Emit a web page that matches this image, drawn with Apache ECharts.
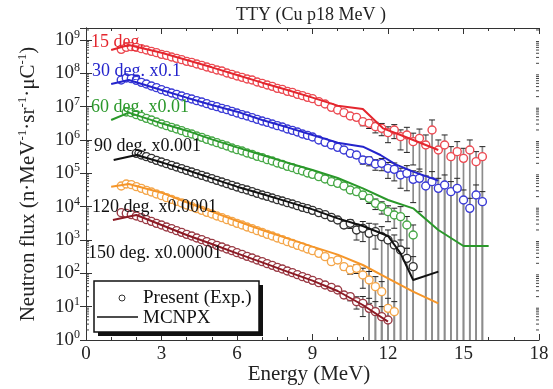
<!DOCTYPE html>
<html>
<head>
<meta charset="utf-8">
<script src="https://cdn.jsdelivr.net/npm/echarts@6/dist/echarts.min.js"></script>
<style>
  html, body { margin: 0; padding: 0; background: #fff; }
  #chart { width: 553px; height: 389px; }
</style>
</head>
<body>
<div id="chart"></div>
<script>
// Thick-target neutron yield, Cu target, 18 MeV protons.
// Flux values are stored as log10(n/MeV/sr/uC), already multiplied by the
// scale factor printed next to each angle.

// Energy grid of the measured points (MeV), dense low-energy part
const lowE = [1.4, 1.6, 1.8, 2.0, 2.2, 2.4, 2.6, 2.8, 3.0, 3.2, 3.4, 3.6, 3.8,
  4.0, 4.2, 4.4, 4.6, 4.8, 5.0, 5.2, 5.4, 5.6, 5.8, 6.0, 6.2, 6.4, 6.6, 6.8,
  7.0, 7.2, 7.4, 7.6, 7.8, 8.0, 8.2, 8.4, 8.6, 8.8, 9.0];
// High-energy part, where statistical errors are shown
const tailE = [9.25, 9.5, 9.75, 10.0, 10.25, 10.5, 10.75, 11.0, 11.25, 11.5,
  11.75, 12.0, 12.25, 12.5, 12.75, 13.0, 13.25, 13.5, 13.75, 14.0, 14.25, 14.5,
  14.75, 15.0, 15.25, 15.5, 15.75];

// 15 deg
const exp15Low = [8.72, 8.78, 8.80, 8.78, 8.74, 8.70, 8.66, 8.62, 8.57, 8.54, 8.49,
  8.45, 8.41, 8.36, 8.33, 8.28, 8.24, 8.19, 8.15, 8.10, 8.07, 8.01, 7.97, 7.92,
  7.88, 7.83, 7.80, 7.74, 7.70, 7.65, 7.61, 7.55, 7.52, 7.46, 7.43, 7.37, 7.33,
  7.28, 7.24];
const exp15Tail = [7.15, 7.08, 6.98, 6.90, 6.82, 6.72, 6.68, 6.55, 6.50, 6.40,
  6.35, 6.22, 6.30, 6.10, 6.15, 5.95, 6.05, 5.85, 6.30, 5.70, 5.85, 5.50, 5.65,
  5.45, 5.70, 5.35, 5.50];
const err15 = [10, 10, 12, 12, 15, 15, 18, 25, 30, 35, 40, 50, 45, 60, 70, 80, 90,
  100, 100, 100, 100, 100, 100, 100, 100, 100, 100];
const mc15E = [1.0, 1.7, 3, 4, 5, 6, 7, 8, 9, 10, 11, 11.8, 12.5, 13, 14];
const mc15 = [8.70, 8.85, 8.62, 8.40, 8.18, 7.95, 7.72, 7.50, 7.27, 7.03, 6.93,
  6.35, 6.15, 6.00, 5.70];

// 30 deg x0.1
const exp30Low = [7.80, 7.86, 7.84, 7.79, 7.73, 7.68, 7.62, 7.57, 7.51, 7.46, 7.41,
  7.37, 7.32, 7.27, 7.23, 7.18, 7.14, 7.09, 7.04, 7.00, 6.95, 6.91, 6.86, 6.81,
  6.76, 6.72, 6.67, 6.62, 6.57, 6.53, 6.48, 6.43, 6.39, 6.33, 6.29, 6.24, 6.18,
  6.14, 6.09];
const exp30Tail = [6.00, 5.93, 5.85, 5.78, 5.70, 5.60, 5.55, 5.40, 5.38, 5.28,
  5.30, 5.15, 5.12, 4.95, 5.00, 4.82, 4.85, 4.62, 4.75, 4.55, 4.65, 4.45, 4.55,
  4.20, 3.95, 4.35, 4.15];
const err30 = [10, 10, 12, 12, 15, 18, 20, 25, 30, 35, 40, 50, 55, 60, 70, 80, 90,
  100, 100, 100, 100, 100, 100, 100, 100, 100, 100];
const mc30E = [1.0, 1.7, 3, 4, 5, 6, 7, 8, 9, 10, 11, 11.7, 12.3, 13, 14];
const mc30 = [7.68, 7.80, 7.50, 7.27, 7.05, 6.85, 6.60, 6.38, 6.15, 5.92, 5.80,
  5.55, 5.27, 5.05, 4.78];

// 60 deg x0.01
const exp60Low = [null, 6.84, 6.82, 6.76, 6.71, 6.65, 6.60, 6.54, 6.48, 6.43, 6.38,
  6.33, 6.28, 6.22, 6.18, 6.12, 6.08, 6.02, 5.97, 5.92, 5.87, 5.82, 5.76, 5.71,
  5.67, 5.61, 5.57, 5.51, 5.47, 5.41, 5.37, 5.31, 5.27, 5.21, 5.17, 5.11, 5.07,
  5.01, 4.97];
const exp60Tail = [4.90, 4.83, 4.75, 4.70, 4.62, 4.50, 4.45, 4.35, 4.25, 4.10,
  4.00, 3.85, 3.75, 3.70, 3.45, 3.15];
const err60 = [8, 10, 10, 12, 15, 18, 20, 25, 30, 35, 40, 50, 60, 100, 80, 100];
const mc60E = [1.0, 1.7, 3, 4, 5, 6, 7, 8, 9, 10, 11, 12, 13, 14, 15, 16];
const mc60 = [6.60, 6.82, 6.50, 6.28, 6.02, 5.78, 5.55, 5.32, 5.10, 4.86, 4.55,
  4.20, 3.95, 3.30, 2.82, 2.82];

// 90 deg x0.001
const exp90Low = [null, null, null, 5.60, 5.55, 5.50, 5.45, 5.39, 5.34, 5.29, 5.24,
  5.19, 5.14, 5.09, 5.04, 4.99, 4.94, 4.89, 4.84, 4.79, 4.74, 4.69, 4.64, 4.59,
  4.54, 4.50, 4.45, 4.40, 4.35, 4.31, 4.26, 4.21, 4.17, 4.12, 4.08, 4.03, 3.98,
  3.94, 3.89];
const exp90Tail = [3.82, 3.76, 3.68, 3.60, 3.45, 3.50, 3.30, 3.35, 3.20, 3.25,
  3.10, 3.00, 2.85, 2.70, 2.45, 2.20];
const err90 = [10, 12, 12, 15, 20, 30, 50, 60, 100, 70, 100, 100, 100, 100, 100, 100];
const mc90E = [1.1, 2.0, 3, 4, 5, 6, 7, 8, 9, 10, 11, 12, 12.5, 13, 14];
const mc90 = [5.40, 5.55, 5.33, 5.10, 4.85, 4.60, 4.38, 4.15, 3.92, 3.65, 3.42,
  3.12, 2.60, 1.80, 2.05];

// 120 deg x0.0001
const exp120Low = [4.62, 4.68, 4.66, 4.60, 4.55, 4.49, 4.44, 4.38, 4.33, 4.27, 4.22,
  4.16, 4.11, 4.05, 4.00, 3.94, 3.89, 3.83, 3.78, 3.72, 3.67, 3.61, 3.56, 3.50,
  3.45, 3.39, 3.34, 3.28, 3.23, 3.17, 3.12, 3.06, 3.01, 2.95, 2.90, 2.84, 2.79,
  2.73, 2.68];
const exp120Tail = [2.60, 2.50, 2.35, 2.40, 2.20, 2.10, 2.15, 1.95, 1.80, 1.60,
  1.45, 0.95, 0.85];
const err120 = [10, 12, 15, 15, 20, 25, 30, 60, 80, 100, 100, 100, 100];
const mc120E = [1.0, 1.7, 3, 4, 5, 6, 7, 8, 9, 10, 11, 12, 13, 14];
const mc120 = [4.60, 4.68, 4.42, 4.13, 3.85, 3.57, 3.30, 3.05, 2.80, 2.56, 2.25,
  1.85, 1.45, 1.10];

// 150 deg x0.00001
const exp150Low = [3.82, 3.80, 3.76, 3.72, 3.67, 3.61, 3.56, 3.50, 3.45, 3.39, 3.34,
  3.28, 3.23, 3.17, 3.12, 3.06, 3.01, 2.95, 2.90, 2.84, 2.79, 2.73, 2.68, 2.62,
  2.57, 2.51, 2.46, 2.40, 2.35, 2.29, 2.24, 2.18, 2.13, 2.07, 2.02, 1.96, 1.90,
  1.85, 1.79];
const exp150Tail = [1.72, 1.65, 1.58, 1.50, 1.35, 1.30, 1.15, 1.10, 0.95, 0.85,
  0.70, 0.60];
const err150 = [10, 12, 12, 15, 20, 25, 40, 60, 100, 100, 100, 100];
const mc150E = [1.07, 2.0, 3, 4, 5, 6, 7, 8, 9, 10, 11, 12];
const mc150 = [3.60, 3.75, 3.45, 3.15, 2.88, 2.60, 2.33, 2.05, 1.78, 1.47, 1.05, 0.55];

// Axis ticks
const xTicks = [0, 3, 6, 9, 12, 15, 18];
const yDecades = [0, 1, 2, 3, 4, 5, 6, 7, 8, 9];

// Angle labels drawn inside the plot
const angleLabels = ['15 deg.', '30 deg. x0.1', '60 deg. x0.01', '90 deg. x0.001',
  '120 deg. x0.0001', '150 deg. x0.00001'];

const SERIF = 'Liberation Serif, Times New Roman, serif';

const groups = [
  { low: exp15Low,  tail: exp15Tail,  err: err15,  mcE: mc15E,  mc: mc15,  line: '#e4262e', pt: '#ec4a52' },
  { low: exp30Low,  tail: exp30Tail,  err: err30,  mcE: mc30E,  mc: mc30,  line: '#2424cc', pt: '#3a3ad6' },
  { low: exp60Low,  tail: exp60Tail,  err: err60,  mcE: mc60E,  mc: mc60,  line: '#2a982a', pt: '#46a846' },
  { low: exp90Low,  tail: exp90Tail,  err: err90,  mcE: mc90E,  mc: mc90,  line: '#111111', pt: '#333333' },
  { low: exp120Low, tail: exp120Tail, err: err120, mcE: mc120E, mc: mc120, line: '#f5962a', pt: '#f4a64a' },
  { low: exp150Low, tail: exp150Tail, err: err150, mcE: mc150E, mc: mc150, line: '#8c1a24', pt: '#9a3a44' }
];

const Y_MIN = 1;
const Y_MAX = Math.pow(10, 9.36);

function errorBar(params, api) {
  const x = api.value(0);
  const top = api.coord([x, api.value(2)]);
  const bot = api.coord([x, api.value(1)]);
  const w = 3;
  return {
    type: 'group',
    children: [
      { type: 'line', shape: { x1: top[0], y1: top[1], x2: bot[0], y2: bot[1] },
        style: { stroke: '#8c8c8c', lineWidth: 1.7 } },
      { type: 'line', shape: { x1: top[0] - w, y1: top[1], x2: top[0] + w, y2: top[1] },
        style: { stroke: '#222', lineWidth: 1 } },
      { type: 'line', shape: { x1: bot[0] - w, y1: bot[1], x2: bot[0] + w, y2: bot[1] },
        style: { stroke: '#222', lineWidth: 1 } }
    ]
  };
}

// log-style minor ticks (2..9 within each decade) on both vertical axes
const minorTickValues = [];
for (let d = 0; d <= 9; d++) {
  for (let k = 2; k <= 9; k++) {
    const v = k * Math.pow(10, d);
    if (v < Y_MAX) minorTickValues.push([0, v]);
  }
}
function minorTick(params, api) {
  const p = api.coord([0, api.value(1)]);
  const cs = params.coordSys;
  const l = cs.x, r = cs.x + cs.width;
  return {
    type: 'group',
    children: [
      { type: 'line', shape: { x1: l, y1: p[1], x2: l + 3, y2: p[1] }, style: { stroke: '#444', lineWidth: 1 } },
      { type: 'line', shape: { x1: r, y1: p[1], x2: r - 3, y2: p[1] }, style: { stroke: '#444', lineWidth: 1 } }
    ]
  };
}

const series = [];
groups.forEach(function (g) {
  const bars = [];
  g.tail.forEach(function (v, i) {
    if (v == null) return;
    const val = Math.pow(10, v);
    const lo = val * (1 - g.err[i] / 100);
    bars.push([tailE[i], lo > 0 ? lo : 0.3, val * (1 + g.err[i] / 100)]);
  });
  series.push({
    type: 'custom', renderItem: errorBar, data: bars, clip: true, z: 2,
    encode: { x: 0, y: [1, 2] }, silent: true
  });
});
groups.forEach(function (g) {
  const pts = [];
  g.low.forEach(function (v, i) { if (v != null) pts.push([lowE[i], Math.pow(10, v)]); });
  g.tail.forEach(function (v, i) { if (v != null) pts.push([tailE[i], Math.pow(10, v)]); });
  series.push({
    type: 'scatter', data: pts, symbol: 'circle', symbolSize: 8, z: 3, silent: true,
    itemStyle: { color: '#ffffff', borderColor: g.pt, borderWidth: 1.4, opacity: 1 }
  });
});
groups.forEach(function (g) {
  series.push({
    type: 'line', data: g.mcE.map(function (e, i) { return [e, Math.pow(10, g.mc[i])]; }),
    showSymbol: false, symbol: 'none', z: 4, silent: true,
    lineStyle: { color: g.line, width: 2 }
  });
});
series.push({
  type: 'custom', renderItem: minorTick, data: minorTickValues, z: 5, silent: true,
  encode: { x: 0, y: 1 }
});

function yLabel(value) {
  const e = Math.log10(value);
  const r = Math.round(e);
  if (Math.abs(e - r) > 1e-6 || yDecades.indexOf(r) < 0) return '';
  return '10{s|' + r + '}';
}

const axisLineStyle = { color: '#333', width: 1 };
const chart = echarts.init(document.getElementById('chart'), null, { renderer: 'canvas' });

const labelColors = ['#e4262e', '#2424cc', '#2a982a', '#111', '#111', '#111'];
const labelPos = [[91, 42], [92, 71], [91, 107], [94, 146], [92, 207], [88, 253]];

const graphics = [
  { type: 'text', x: 311, y: 15, style: { text: 'TTY (Cu p18 MeV )', align: 'center', verticalAlign: 'middle',
      fontFamily: SERIF, fontSize: 18, fill: '#222' } },
  { type: 'text', x: 309, y: 374, style: { text: 'Energy (MeV)', align: 'center', verticalAlign: 'middle',
      fontFamily: SERIF, fontSize: 21, fill: '#222' } },
  { type: 'text', x: 28, y: 184, rotation: Math.PI / 2,
    style: { text: 'Neutron flux (n·MeV{s|-1}·sr{s|-1}·μC{s|-1})', align: 'center', verticalAlign: 'middle',
      fontFamily: SERIF, fontSize: 21, fill: '#222', lineHeight: 24,
      rich: { s: { fontFamily: SERIF, fontSize: 13, fill: '#222', verticalAlign: 'top', lineHeight: 24 } } } },
  // legend box with drop shadow
  { type: 'rect', shape: { x: 98, y: 285, width: 165, height: 51 }, style: { fill: '#111' }, z: 10 },
  { type: 'rect', shape: { x: 94, y: 281, width: 165, height: 51 }, style: { fill: '#fff', stroke: '#111', lineWidth: 1.5 }, z: 11 },
  { type: 'circle', shape: { cx: 122, cy: 298, r: 3 }, style: { fill: '#fff', stroke: '#333', lineWidth: 1 }, z: 12 },
  { type: 'text', x: 143, y: 298, style: { text: 'Present (Exp.)', align: 'left', verticalAlign: 'middle',
      fontFamily: SERIF, fontSize: 19, fill: '#111' }, z: 12 },
  { type: 'line', shape: { x1: 97, y1: 317, x2: 138, y2: 317 }, style: { stroke: '#111', lineWidth: 1.6 }, z: 12 },
  { type: 'text', x: 143, y: 318, style: { text: 'MCNPX', align: 'left', verticalAlign: 'middle',
      fontFamily: SERIF, fontSize: 19, fill: '#111' }, z: 12 }
];
angleLabels.forEach(function (t, i) {
  graphics.push({ type: 'text', x: labelPos[i][0], y: labelPos[i][1], z: 9,
    style: { text: t, align: 'left', verticalAlign: 'middle', fontFamily: SERIF, fontSize: 18, fill: labelColors[i] } });
});

chart.setOption({
  animation: false,
  backgroundColor: '#fff',
  grid: { left: 86, right: 14, top: 28, bottom: 49 },
  xAxis: [
    { type: 'value', min: 0, max: 18, interval: 3, position: 'bottom',
      axisLine: { lineStyle: axisLineStyle },
      axisTick: { inside: true, length: 6, lineStyle: axisLineStyle },
      minorTick: { show: true, splitNumber: 3, length: 3, lineStyle: axisLineStyle },
      splitLine: { show: false },
      axisLabel: { fontFamily: SERIF, fontSize: 19, color: '#222', margin: 5,
        formatter: function (v) { return xTicks.indexOf(v) >= 0 ? String(v) : ''; } } },
    { type: 'value', min: 0, max: 18, interval: 3, position: 'top',
      axisLine: { lineStyle: axisLineStyle },
      axisTick: { inside: true, length: 6, lineStyle: axisLineStyle },
      minorTick: { show: true, splitNumber: 3, length: 3, lineStyle: axisLineStyle },
      splitLine: { show: false }, axisLabel: { show: false } }
  ],
  yAxis: [
    { type: 'log', logBase: 10, min: Y_MIN, max: Y_MAX, interval: 1, position: 'left',
      axisLine: { lineStyle: axisLineStyle },
      axisTick: { inside: true, length: 6, lineStyle: axisLineStyle },
      splitLine: { show: false },
      axisLabel: { fontFamily: SERIF, fontSize: 19, color: '#222', margin: 6,
        formatter: yLabel,
        rich: { s: { fontFamily: SERIF, fontSize: 12, color: '#222', verticalAlign: 'top', padding: [0, 0, 10, 0] } } } },
    { type: 'log', logBase: 10, min: Y_MIN, max: Y_MAX, interval: 1, position: 'right',
      axisLine: { lineStyle: axisLineStyle },
      axisTick: { inside: true, length: 6, lineStyle: axisLineStyle },
      splitLine: { show: false }, axisLabel: { show: false } }
  ],
  graphic: graphics,
  series: series
});
</script>
</body>
</html>
